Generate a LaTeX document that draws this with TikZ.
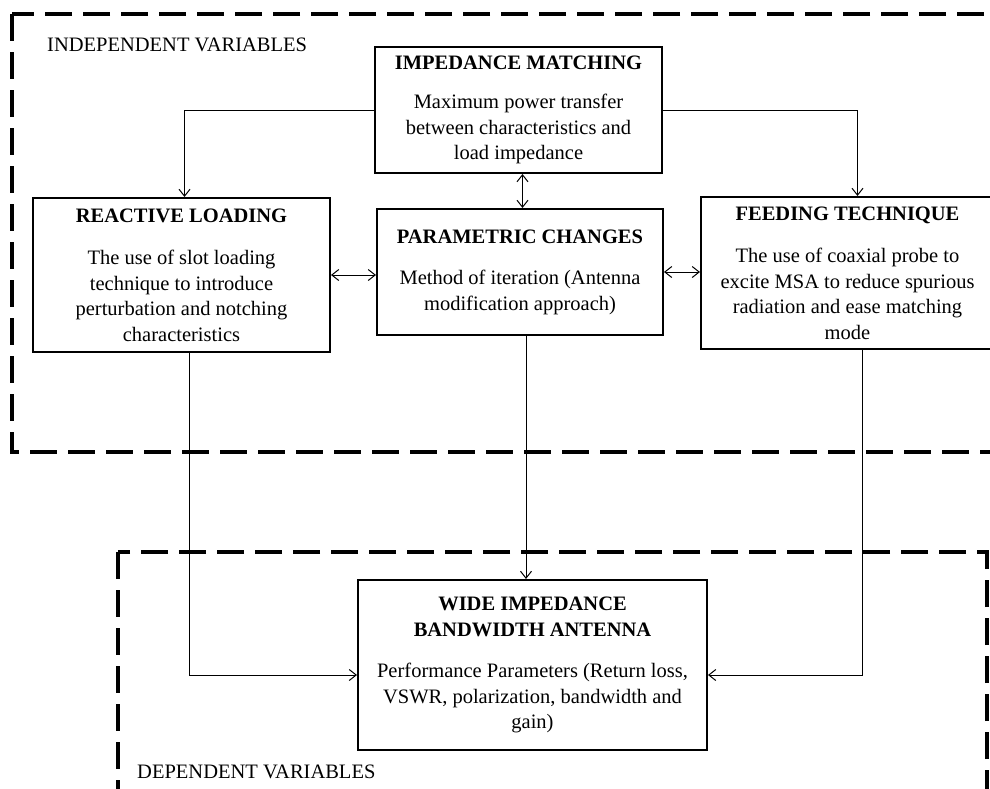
\documentclass[tikz,border=0pt]{standalone}
\usepackage{fontspec}
\setmainfont{Liberation Serif}
\usetikzlibrary{arrows.meta}

\begin{document}
\begin{tikzpicture}[x=1pt,y=-1pt,>={Straight Barb[length=7pt,width=11pt]}]
    \tikzstyle{every node}+=[inner sep=0pt, font=\fontsize{20.5}{25.5}\selectfont]
    \tikzstyle{block}=[draw=black, line width=2pt, align=center]
    \tikzstyle{frame}=[black, line width=3.2pt, dash pattern=on 27pt off 11pt]
    \tikzstyle{link}=[black, line width=1pt]
    \clip (0,0) rectangle (990,788);
    \draw [frame] (12,14) rectangle (1010,452);
    \draw [frame] (118,552) rectangle (987,810);
    \draw (47,45) node [anchor=west] (indep) {INDEPENDENT VARIABLES};
    \draw (137,772) node [anchor=west] (dep) {DEPENDENT VARIABLES};
    \node [block, minimum width=287pt, minimum height=126pt] (imp) at (518.5,110)
        {\textbf{IMPEDANCE MATCHING}\\[14pt] Maximum power transfer\\ between characteristics and\\ load impedance};
    \node [block, minimum width=297pt, minimum height=154pt] (react) at (181.5,275)
        {\textbf{REACTIVE LOADING}\\[17pt] The use of slot loading\\ technique to introduce\\ perturbation and notching\\ characteristics};
    \node [block, minimum width=286pt, minimum height=126pt] (param) at (520,272)
        {\textbf{PARAMETRIC CHANGES}\\[16pt] Method of iteration (Antenna\\ modification approach)};
    \node [block, minimum width=293pt, minimum height=152pt] (feed) at (847.5,273)
        {\textbf{FEEDING TECHNIQUE}\\[17pt] The use of coaxial probe to\\ excite MSA to reduce spurious\\ radiation and ease matching\\ mode};
    \node [block, minimum width=349pt, minimum height=170pt] (wide) at (532.5,665)
        {\textbf{WIDE IMPEDANCE}\\ \textbf{BANDWIDTH ANTENNA}\\[16pt] Performance Parameters (Return loss,\\ VSWR, polarization, bandwidth and\\ gain)};
    \draw [link,->] (imp.west) -| ([xshift=3pt]react.north);
    \draw [link,->] (imp.east) -| ([xshift=10pt]feed.north);
    \draw [link,<->] ([xshift=4pt]imp.south) -- ([xshift=4pt]imp.south |- param.north);
    \draw [link,<->] (react.east) -- (react.east -| param.west);
    \draw [link,<->] (param.east) -- (param.east -| feed.west);
    \draw [link,->] ([xshift=8pt]react.south) |- ([yshift=-10pt]wide.west);
    \draw [link,->] ([xshift=6pt]param.south) -- ([xshift=6pt]param.south |- wide.north);
    \draw [link,->] ([xshift=15pt]feed.south) |- ([yshift=-10pt]wide.east);
\end{tikzpicture}
\end{document}
